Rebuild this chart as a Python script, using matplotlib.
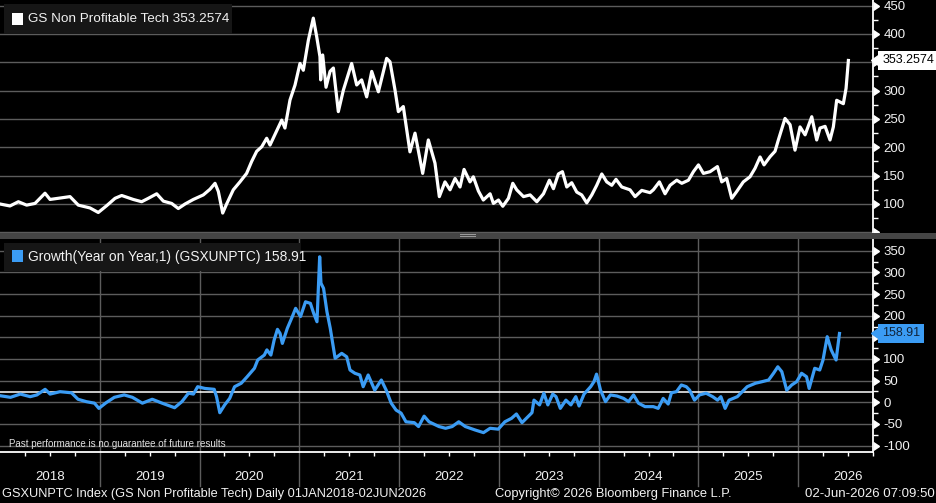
import matplotlib
matplotlib.use('Agg')
import matplotlib.pyplot as plt
import matplotlib.transforms as mtransforms
from matplotlib.patches import Rectangle

# GS Non Profitable Tech index (decimal years)
price_years = [
    2018.006, 2018.105, 2018.188, 2018.27, 2018.353, 2018.452, 2018.502, 2018.584, 2018.70, 2018.782,
    2018.898, 2018.98, 2019.063, 2019.146, 2019.212, 2019.327, 2019.41, 2019.476, 2019.559, 2019.625,
    2019.707, 2019.773, 2019.84, 2019.922, 2020.021, 2020.087, 2020.137, 2020.17, 2020.213, 2020.252,
    2020.318, 2020.384, 2020.45, 2020.50, 2020.55, 2020.60, 2020.649, 2020.682, 2020.732, 2020.798,
    2020.83, 2020.88, 2020.93, 2020.979, 2021.012, 2021.062, 2021.111, 2021.144, 2021.177, 2021.184,
    2021.204, 2021.237, 2021.277, 2021.31, 2021.359, 2021.409, 2021.491, 2021.541, 2021.59, 2021.64,
    2021.69, 2021.756, 2021.838, 2021.871, 2021.921, 2021.954, 2022.003, 2022.069, 2022.119, 2022.195,
    2022.251, 2022.317, 2022.36, 2022.416, 2022.466, 2022.516, 2022.565, 2022.605, 2022.664, 2022.697,
    2022.747, 2022.796, 2022.863, 2022.896, 2022.946, 2022.989, 2023.045, 2023.088, 2023.127, 2023.194,
    2023.26, 2023.326, 2023.392, 2023.451, 2023.491, 2023.54, 2023.58, 2023.623, 2023.672, 2023.722,
    2023.771, 2023.821, 2023.871, 2023.92, 2023.97, 2024.019, 2024.069, 2024.111, 2024.168, 2024.25,
    2024.30, 2024.366, 2024.448, 2024.481, 2024.541, 2024.597, 2024.647, 2024.713, 2024.763, 2024.829,
    2024.878, 2024.928, 2024.977, 2025.043, 2025.116, 2025.159, 2025.208, 2025.258, 2025.307, 2025.373,
    2025.439, 2025.489, 2025.539, 2025.578, 2025.638, 2025.687, 2025.72, 2025.786, 2025.836, 2025.885,
    2025.935, 2025.985, 2026.051, 2026.10, 2026.133, 2026.183, 2026.232, 2026.265, 2026.298, 2026.364,
    2026.391, 2026.414]
price_values = [
    100, 96.5, 104, 98, 101, 119, 108, 110, 113, 98,
    93, 85, 97, 110, 115, 108, 104, 110, 118, 105,
    101, 92, 100, 108, 116, 126, 136.5, 122, 84, 100,
    125, 139, 154, 175, 193, 201, 216, 204, 223, 248,
    234, 283.5, 310, 348, 336, 389, 428, 396, 360, 319,
    363, 306, 334, 340, 263, 301, 348, 310, 319, 289,
    334, 298, 357, 351, 301, 263, 272, 192, 225, 154,
    213, 172, 113, 139, 125, 145, 130, 161, 139, 148,
    123, 107, 118, 101, 107, 96, 110, 136.5, 125, 113,
    116, 104, 118, 142, 127, 153, 157, 130, 137.5, 121,
    116, 102, 116, 133, 153, 139, 133, 143.5, 130, 125,
    113, 124, 120, 125, 139, 118, 133, 142, 136.5, 142,
    157, 169, 154, 157, 166, 139, 145, 110, 122, 139,
    148, 163, 183, 169, 183.5, 193, 213, 251, 240, 195,
    236, 222, 254, 213, 234, 237, 213, 236, 283, 277,
    304, 353.2574]

# Year on year growth (%)
growth_years = [
    2018.006, 2018.105, 2018.204, 2018.303, 2018.37, 2018.452, 2018.502, 2018.601, 2018.716, 2018.782,
    2018.865, 2018.947, 2018.991, 2019.063, 2019.146, 2019.245, 2019.327, 2019.427, 2019.526, 2019.625,
    2019.75, 2019.823, 2019.889, 2019.939, 2019.981, 2020.054, 2020.147, 2020.17, 2020.203, 2020.252,
    2020.302, 2020.351, 2020.418, 2020.477, 2020.55, 2020.583, 2020.649, 2020.675, 2020.715, 2020.748,
    2020.781, 2020.807, 2020.83, 2020.88, 2020.93, 2020.963, 2021.012, 2021.062, 2021.111, 2021.144,
    2021.177, 2021.204, 2021.217, 2021.243, 2021.277, 2021.31, 2021.359, 2021.425, 2021.475, 2021.508,
    2021.557, 2021.607, 2021.64, 2021.69, 2021.756, 2021.822, 2021.871, 2021.921, 2021.97, 2022.02,
    2022.069, 2022.152, 2022.195, 2022.251, 2022.30, 2022.40, 2022.466, 2022.532, 2022.598, 2022.664,
    2022.763, 2022.846, 2022.912, 2022.994, 2023.06, 2023.127, 2023.176, 2023.232, 2023.292, 2023.332,
    2023.352, 2023.408, 2023.451, 2023.491, 2023.54, 2023.573, 2023.616, 2023.672, 2023.722, 2023.771,
    2023.804, 2023.854, 2023.92, 2023.953, 2023.979, 2024.019, 2024.069, 2024.118, 2024.184, 2024.25,
    2024.30, 2024.35, 2024.399, 2024.465, 2024.548, 2024.597, 2024.647, 2024.697, 2024.73, 2024.78,
    2024.829, 2024.879, 2024.912, 2024.961, 2025.011, 2025.077, 2025.143, 2025.192, 2025.225, 2025.268,
    2025.307, 2025.39, 2025.439, 2025.489, 2025.572, 2025.638, 2025.704, 2025.753, 2025.796, 2025.836,
    2025.885, 2025.935, 2025.985, 2026.034, 2026.084, 2026.11, 2026.166, 2026.216, 2026.249, 2026.291,
    2026.331, 2026.38, 2026.414]
growth_values = [
    15, 11.5, 19, 13, 17, 30, 19, 24.5, 22, 7,
    1.5, -2, -14, -1, 11.5, 17, 11.5, -2, 7, -2,
    -12.5, 1.5, 21, 19, 36, 32, 30, 13, -24, -6,
    9, 36, 44, 59, 78.5, 97.7, 109, 121, 109, 144,
    168.5, 159, 136, 171, 198, 217, 198, 232, 228.5, 205.5,
    186, 336, 275, 263, 209, 171, 101.6, 113, 105, 74.6,
    67, 63, 36, 63, 28, 51.5, 28, -2, -18, -25,
    -45, -47, -56, -32, -45, -56, -60, -56, -45, -56,
    -64, -70, -60, -62, -45, -37, -27, -47, -33, -24,
    5, -6, 21, -6, 19, 13, -14, 5, -6, 13,
    -8.5, 19, 36, 47.6, 65, 28, 1.5, 17, 14.5, 9,
    1.5, 17, -2, -10, -10, -14, 9, -4, 22, 24.5,
    40, 36, 28, 5, 17, 21, 13, 5, 13, -14,
    5, 13, 24.5, 36, 44, 47.6, 51.5, 67, 82, 70.7,
    28, 40, 47.6, 67, 59, 32, 78.5, 74.6, 97.7, 151.5,
    121, 97.7, 158.91]
growth_avg = 24.5

years = [2018, 2019, 2020, 2021, 2022, 2023, 2024, 2025, 2026]
price_ticks = [50, 100, 150, 200, 250, 300, 350, 400, 450]
growth_ticks = [-100, -50, 0, 50, 100, 150, 200, 250, 300, 350]
price_last = '353.2574'
growth_last = '158.91'

BG = 'black'
GRID = '#5c5c5c'
BLUE = '#3b9cf4'
TXT = '#f2f2f2'
plt.rcParams['font.family'] = ['Liberation Sans', 'DejaVu Sans']

W, H = 937, 503
fig = plt.figure(figsize=(W / 100, H / 100), dpi=100, facecolor=BG)


def fx(px):
    return px / W


def fy(py):
    return 1 - py / H


ax1 = fig.add_axes([0, fy(233), fx(873), 233 / H], facecolor=BG)
ax2 = fig.add_axes([0, fy(451.5), fx(873), (451.5 - 238.5) / H], facecolor=BG)

xlim = (2018.006, 2026.658)

ax1.plot(price_years, price_values, color='white', lw=2.3, solid_joinstyle='round', zorder=3)
ax2.plot(growth_years, growth_values, color=BLUE, lw=2.3, solid_joinstyle='round', zorder=3)
ax2.axhline(growth_avg, color='white', lw=1.1, zorder=2)

ax1.set_ylim(48.8, 460)
ax2.set_ylim(-113.6, 378.2)

for ax, ticks, hidden in [(ax1, price_ticks, (50, 350)), (ax2, growth_ticks, (150,))]:
    ax.set_xlim(*xlim)
    for s in ax.spines.values():
        s.set_visible(False)
    ax.spines['right'].set_visible(True)
    ax.spines['right'].set_color('white')
    ax.spines['right'].set_linewidth(1.3)
    ax.yaxis.tick_right()
    ax.set_yticks(ticks)
    ax.set_yticklabels(['' if t in hidden else str(t) for t in ticks])
    ax.set_yticks([t + 25 for t in ticks[:-1]], minor=True)
    ax.tick_params(axis='y', which='major', length=0, pad=7.5, labelsize=9.5, labelcolor=TXT)
    ax.tick_params(axis='y', which='minor', length=3.5, width=1, color='white', direction='out')
    ax.grid(axis='y', which='major', color=GRID, lw=1)
    ax.set_axisbelow(True)
    # little triangles on the major ticks
    tr = mtransforms.blended_transform_factory(ax.transAxes, ax.transData)
    ax.plot([1] * len(ticks), ticks, ls='none', marker=9, ms=6, color='white',
            transform=tr, clip_on=False, zorder=5)

ax1.set_xticks([])

# lower axis: quarter ticks, year separators, year labels
ax2.spines['bottom'].set_visible(True)
ax2.spines['bottom'].set_color('white')
ax2.spines['bottom'].set_linewidth(1.3)
ax2.set_xticks(years)
ax2.set_xticklabels([])
ax2.set_xticks([y + q for y in years for q in (0.25, 0.5, 0.75)], minor=True)
ax2.tick_params(axis='x', which='major', length=0)
ax2.tick_params(axis='x', which='minor', length=3, width=1, color='white', direction='out')
for y in years[1:]:
    ax2.axvline(y, ymin=-0.16, ymax=1, color=GRID, lw=1, clip_on=False, zorder=1)
trx = mtransforms.blended_transform_factory(ax2.transData, ax2.transAxes)
for y in years:
    ax2.text(y + 0.5, -0.12, str(y), transform=trx, ha='center', va='center',
             color=TXT, fontsize=9.5)

# last value tags
for ax, val, label, fc, tc in [(ax1, price_values[-1], price_last, 'white', 'black'),
                               (ax2, growth_values[-1], growth_last, BLUE, '#10243a')]:
    tr = mtransforms.blended_transform_factory(ax.transAxes, ax.transData)
    ax.plot([1.0095], [val], marker=8, ms=10, color=fc, ls='none', transform=tr,
            clip_on=False, zorder=6)
    ax.text(1.0105, val, label, transform=tr, ha='left', va='center', color=tc,
            fontsize=9, zorder=7,
            bbox=dict(boxstyle='square,pad=0.3', fc=fc, ec='none'))

# separator between panels
fig.add_artist(Rectangle((0, fy(238.5)), 1, 5.5 / H, transform=fig.transFigure,
                         fc='#454545', ec='none'))
fig.add_artist(Rectangle((fx(460), fy(236.6)), fx(16), 0.9 / H, transform=fig.transFigure,
                         fc='#9a9a9a', ec='none'))
fig.add_artist(Rectangle((fx(460), fy(234.8)), fx(16), 0.9 / H, transform=fig.transFigure,
                         fc='#9a9a9a', ec='none'))

# legends
fig.add_artist(Rectangle((fx(4), fy(34)), fx(228), 30 / H, transform=fig.transFigure,
                         fc='#161616', ec='none', zorder=8))
fig.add_artist(Rectangle((fx(12), fy(25)), fx(11), 12 / H, transform=fig.transFigure,
                         fc='white', ec='none', zorder=9))
fig.text(fx(28), fy(19.5), 'GS Non Profitable Tech ' + price_last, color=TXT,
         fontsize=9.7, va='center', ha='left', zorder=9)

fig.add_artist(Rectangle((fx(4), fy(271)), fx(296), 28 / H, transform=fig.transFigure,
                         fc='#161616', ec='none', zorder=8))
fig.add_artist(Rectangle((fx(12), fy(262)), fx(11), 12 / H, transform=fig.transFigure,
                         fc=BLUE, ec='none', zorder=9))
fig.text(fx(28), fy(256.5), 'Growth(Year on Year,1) (GSXUNPTC) ' + growth_last, color=TXT,
         fontsize=9.9, va='center', ha='left', zorder=9)

fig.text(fx(9), fy(444), 'Past performance is no guarantee of future results',
         color='#e0e0e0', fontsize=7, va='center', ha='left')

# footer
fig.text(fx(2), fy(494), 'GSXUNPTC Index (GS Non Profitable Tech) Daily 01JAN2018-02JUN2026',
         color=TXT, fontsize=9.2, va='center', ha='left')
fig.text(fx(495), fy(494), 'Copyright\u00a9 2026 Bloomberg Finance L.P.',
         color=TXT, fontsize=9.3, va='center', ha='left')
fig.text(fx(935), fy(494), '02-Jun-2026 07:09:50',
         color=TXT, fontsize=9.5, va='center', ha='right')

fig.savefig('out.png', dpi=100, facecolor=BG)
